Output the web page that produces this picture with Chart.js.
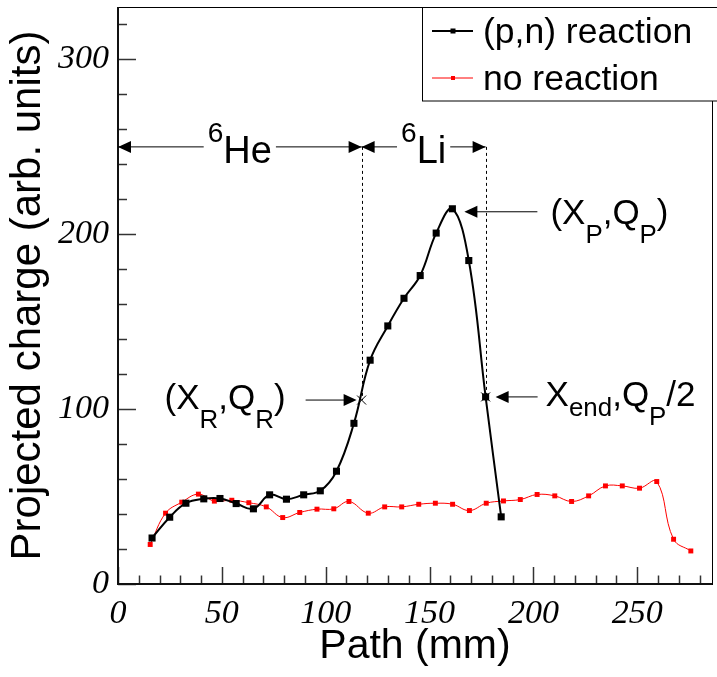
<!DOCTYPE html>
<html>
<head>
<meta charset="utf-8">
<script src="https://cdn.jsdelivr.net/npm/chart.js@4.4.1/dist/chart.umd.min.js"></script>
<style>
  html, body { margin: 0; padding: 0; background: #fff; }
  #wrap { width: 717px; height: 677px; }
</style>
</head>
<body>
<div id="wrap"><canvas id="chartCanvas"></canvas></div>
<script>
// (p,n) reaction
const pnPath = [16.4, 24.9, 32.7, 41.3, 49.1, 56.9, 65.2, 73.0, 81.1, 89.4, 97.4, 105.2, 113.6,
  121.4, 129.9, 137.7, 145.5, 153.2, 161.0, 168.9, 177.0, 184.5];
const pnCharge = [26.3, 38.2, 46.2, 48.7, 48.9, 46.0, 43.0, 51.0, 48.5, 51.0, 53.3, 64.5, 91.9,
  128.0, 147.6, 163.4, 176.4, 200.7, 214.6, 185.0, 107.0, 38.4];

// no reaction
const noPath = [15.5, 22.9, 30.7, 38.7, 46.4, 54.8, 63.0, 71.4, 79.3, 87.5, 95.8, 103.9, 111.2,
  120.5, 128.4, 136.6, 144.8, 152.8, 161.1, 169.2, 177.3, 185.6, 193.7, 201.8, 210.3, 218.4,
  226.6, 234.7, 242.8, 251.1, 259.4, 267.5, 275.8];
const noCharge = [22.6, 40.5, 46.8, 51.4, 47.4, 47.9, 46.5, 44.1, 38.0, 40.9, 42.8, 43.0, 47.2,
  40.5, 44.1, 44.1, 45.6, 46.2, 45.6, 42.0, 46.2, 47.5, 48.3, 51.2, 50.4, 47.2,
  50.4, 56.1, 56.1, 54.8, 58.6, 25.6, 18.9];

const xTicks = [0, 50, 100, 150, 200, 250];
const yTicks = [0, 100, 200, 300];

// markers used by the annotations
const regionLevel = 250;
const reactionPoint = [117.3, 105.2];   // (X_R, Q_R)
const endPoint = [177.0, 107.0];        // X_end, Q_P/2
const peakPoint = [161.0, 214.6];       // (X_P, Q_P)

const SANS = '"Liberation Sans", Arial, sans-serif';

function drawRich(ctx, parts, x, y, size) {
  // parts: [text, kind]  kind 0 normal, 1 subscript, 2 superscript, 3 low subscript
  let cx = x;
  for (const [t, kind] of parts) {
    const s = kind ? size * 0.74 : size;
    ctx.font = s + 'px ' + SANS;
    let dy = 0;
    if (kind === 1) dy = size * 0.55;
    if (kind === 3) dy = size * 0.3;
    if (kind === 2) dy = -size * 0.55;
    ctx.fillText(t, cx, y + dy);
    cx += ctx.measureText(t).width;
  }
  return cx - x;
}

function richWidth(ctx, parts, size) {
  let w = 0;
  for (const [t, kind] of parts) {
    ctx.font = (kind ? size * 0.74 : size) + 'px ' + SANS;
    w += ctx.measureText(t).width;
  }
  return w;
}

function arrowHead(ctx, tx, ty, dir) {
  ctx.beginPath();
  ctx.moveTo(tx, ty);
  ctx.lineTo(tx - dir * 13, ty - 6);
  ctx.lineTo(tx - dir * 13, ty + 6);
  ctx.closePath();
  ctx.fill();
}

function hLine(ctx, x1, x2, yy) {
  ctx.beginPath();
  ctx.moveTo(x1, yy);
  ctx.lineTo(x2, yy);
  ctx.stroke();
}

function regionArrow(ctx, x1, x2, yy, parts) {
  const size = 38;
  hLine(ctx, x1, x2, yy);
  arrowHead(ctx, x1, yy, -1);
  arrowHead(ctx, x2, yy, 1);
  const w = richWidth(ctx, parts, size);
  const cx = (x1 + x2) / 2;
  ctx.fillStyle = '#fff';
  ctx.fillRect(cx - w / 2 - 4, yy - 2, w + 8, 4);
  ctx.fillStyle = '#000';
  drawRich(ctx, parts, cx - w / 2, yy + 16, size);
}

const decorations = {
  id: 'decorations',
  beforeDatasetsDraw(chart) {
    const { ctx, chartArea: a, scales: { x, y } } = chart;
    ctx.save();
    ctx.strokeStyle = '#000';
    ctx.lineWidth = 1;
    ctx.strokeRect(a.left + 0.5, a.top + 0.5, a.right - a.left, a.bottom - a.top);
    ctx.strokeStyle = '#333';
    ctx.lineWidth = 1.5;
    for (let v = 0; v <= x.max; v += 10) {
      const px = Math.round(x.getPixelForValue(v)) + 0.5;
      const len = v % 50 === 0 ? 17 : 8.5;
      ctx.beginPath(); ctx.moveTo(px, a.bottom); ctx.lineTo(px, a.bottom - len); ctx.stroke();
    }
    for (let v = 0; v <= y.max; v += 20) {
      const py = Math.round(y.getPixelForValue(v)) + 0.5;
      const len = v % 100 === 0 ? 18 : 9;
      ctx.beginPath(); ctx.moveTo(a.left, py); ctx.lineTo(a.left + len, py); ctx.stroke();
    }
    ctx.strokeStyle = '#111';
    ctx.lineWidth = 2;
    ctx.beginPath();
    ctx.moveTo(a.left, a.top); ctx.lineTo(a.left, a.bottom); ctx.lineTo(a.right, a.bottom);
    ctx.stroke();
    ctx.restore();
  },
  afterDatasetsDraw(chart) {
    const { ctx, scales: { x, y } } = chart;
    ctx.save();
    ctx.strokeStyle = '#000';
    ctx.fillStyle = '#000';
    ctx.lineWidth = 1;
    const ly = y.getPixelForValue(regionLevel);

    // dashed region boundaries
    ctx.setLineDash([3, 3]);
    for (const [bx, by] of [reactionPoint, endPoint]) {
      const px = Math.round(x.getPixelForValue(bx)) + 0.5;
      ctx.beginPath(); ctx.moveTo(px, ly); ctx.lineTo(px, y.getPixelForValue(by)); ctx.stroke();
    }
    ctx.setLineDash([]);

    // crosses
    for (const [bx, by] of [reactionPoint, endPoint]) {
      const px = x.getPixelForValue(bx), py = y.getPixelForValue(by);
      ctx.beginPath();
      ctx.moveTo(px - 4.5, py - 4.5); ctx.lineTo(px + 4.5, py + 4.5);
      ctx.moveTo(px + 4.5, py - 4.5); ctx.lineTo(px - 4.5, py + 4.5);
      ctx.stroke();
    }

    // region arrows
    const xr = x.getPixelForValue(reactionPoint[0]);
    const xe = x.getPixelForValue(endPoint[0]);
    regionArrow(ctx, x.getPixelForValue(0), xr, ly, [['6', 2], ['He', 0]]);
    regionArrow(ctx, xr, xe, ly, [['6', 2], ['Li', 0]]);

    ctx.textBaseline = 'alphabetic';
    const size = 35;

    // (X_R,Q_R)
    let yy = y.getPixelForValue(reactionPoint[1]);
    let tip = xr - 5;
    hLine(ctx, tip - 51, tip - 10, yy);
    arrowHead(ctx, tip, yy, 1);
    let parts = [['(X', 0], ['R', 1], [',Q', 0], ['R', 1], [')', 0]];
    let w = richWidth(ctx, parts, size);
    drawRich(ctx, parts, tip - 51 - 20 - w, yy + 9, size);

    // X_end,Q_P/2
    yy = y.getPixelForValue(endPoint[1]);
    tip = xe + 10;
    hLine(ctx, tip + 10, tip + 42, yy);
    arrowHead(ctx, tip, yy, -1);
    drawRich(ctx, [['X', 0], ['end', 3], [',Q', 0], ['P', 1], ['/2', 0]], tip + 50, yy + 9, size);

    // (X_P,Q_P)
    yy = y.getPixelForValue(peakPoint[1]) + 3;
    tip = x.getPixelForValue(peakPoint[0]) + 12;
    hLine(ctx, tip + 10, tip + 73, yy);
    arrowHead(ctx, tip, yy, -1);
    drawRich(ctx, [['(X', 0], ['P', 1], [',Q', 0], ['P', 1], [')', 0]], tip + 86, yy + 12, size);
    ctx.restore();
  },
  afterDraw(chart) {
    const { ctx } = chart;
    ctx.save();
    ctx.fillStyle = '#fff';
    ctx.fillRect(422, 7, 300, 94);
    ctx.strokeStyle = '#000';
    ctx.lineWidth = 1;
    ctx.strokeRect(422.5, 7.5, 300, 93.5);
    const rows = [
      { label: '(p,n) reaction', color: '#000', width: 2, box: 5, y: 31 },
      { label: 'no reaction', color: '#ff0000', width: 1, box: 4, y: 78 }
    ];
    ctx.textBaseline = 'middle';
    ctx.font = '35.5px ' + SANS;
    for (const r of rows) {
      ctx.strokeStyle = r.color;
      ctx.fillStyle = r.color;
      ctx.lineWidth = r.width;
      hLine(ctx, 432, 473, r.y);
      ctx.fillRect(453 - r.box / 2, r.y - r.box / 2, r.box, r.box);
      ctx.fillStyle = '#000';
      ctx.fillText(r.label, 483, r.y + 2);
    }
    ctx.restore();
  }
};

const tickFont = { family: '"Liberation Serif", "Times New Roman", serif', style: 'italic', size: 34 };

const ctx = document.getElementById('chartCanvas').getContext('2d');
new Chart(ctx, {
  type: 'line',
  data: {
    datasets: [{
      label: '(p,n) reaction',
      data: pnPath.map((v, i) => ({ x: v, y: pnCharge[i] })),
      borderColor: '#000',
      backgroundColor: '#000',
      borderWidth: 2,
      pointStyle: 'rect',
      pointRadius: 5,
      pointBorderWidth: 0,
      tension: 0.4
    }, {
      label: 'no reaction',
      data: noPath.map((v, i) => ({ x: v, y: noCharge[i] })),
      borderColor: '#ff0000',
      backgroundColor: '#ff0000',
      borderWidth: 1,
      pointStyle: 'rect',
      pointRadius: 3.5,
      pointBorderWidth: 0,
      tension: 0.4
    }]
  },
  options: {
    responsive: true,
    maintainAspectRatio: false,
    animation: false,
    layout: { padding: { top: 7, right: 1, left: 0, bottom: 0 } },
    plugins: { legend: { display: false }, tooltip: { enabled: false } },
    scales: {
      x: {
        type: 'linear',
        min: 0,
        max: 286,
        afterBuildTicks: s => { s.ticks = xTicks.map(v => ({ value: v })); },
        afterFit: s => { s.height = 93; s.paddingLeft = 0; s.paddingRight = 0; },
        ticks: { font: tickFont, color: '#000', padding: 10, maxRotation: 0, autoSkip: false },
        grid: { display: false, drawTicks: false },
        border: { display: false },
        title: { display: true, text: 'Path (mm)', color: '#000',
          font: { family: SANS, size: 41 }, padding: { top: 0, bottom: 6 } }
      },
      y: {
        min: 0,
        max: 330,
        afterBuildTicks: s => { s.ticks = yTicks.map(v => ({ value: v })); },
        afterFit: s => { s.width = 118; s.paddingTop = 0; s.paddingBottom = 0; },
        ticks: { font: tickFont, color: '#000', padding: 9, autoSkip: false },
        grid: { display: false, drawTicks: false },
        border: { display: false },
        title: { display: true, text: 'Projected charge (arb. units)', color: '#000',
          font: { family: SANS, size: 42 }, padding: { top: 3, bottom: 0 } }
      }
    }
  },
  plugins: [decorations]
});
</script>
</body>
</html>
